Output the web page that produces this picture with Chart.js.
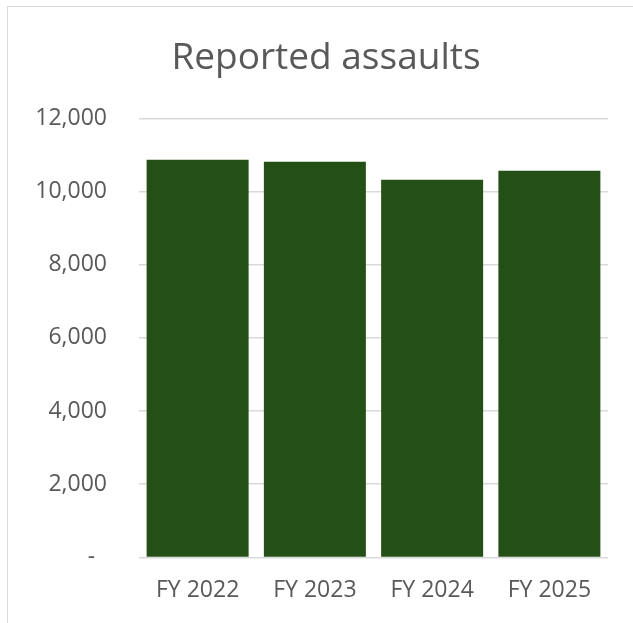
<!DOCTYPE html>
<html>
<head>
<meta charset="utf-8">
<script src="https://cdn.jsdelivr.net/npm/chart.js@4"></script>
<style>
  html, body { margin: 0; padding: 0; background: #fff; overflow: hidden; }
  #frame { position: absolute; left: 7px; top: 6px; width: 700px; height: 700px; border: 1.5px solid #d9d9d9; box-sizing: border-box; }
  #chart { position: absolute; left: 0; top: 0; }
</style>
</head>
<body>
<div id="frame"></div>
<canvas id="chart" width="633" height="623"></canvas>
<script>
const categories = ['FY 2022', 'FY 2023', 'FY 2024', 'FY 2025'];
const assaults = [10870, 10815, 10325, 10570];
const yTickValues = [0, 2000, 4000, 6000, 8000, 10000, 12000];
const yTickLabels = ['-  ', '2,000', '4,000', '6,000', '8,000', '10,000', '12,000'];

const grey = '#595959';

// the original title sits a bit right of the canvas centre
const shiftTitle = {
  id: 'shiftTitle',
  afterLayout(chart) {
    if (chart.titleBlock) chart.titleBlock.left += 44;
  }
};

const ctx = document.getElementById('chart').getContext('2d');
new Chart(ctx, {
  type: 'bar',
  data: {
    labels: categories,
    datasets: [{
      label: 'Reported assaults',
      data: assaults,
      backgroundColor: '#245017',
      borderWidth: 0,
      categoryPercentage: 1,
      barPercentage: 0.87
    }]
  },
  options: {
    responsive: false,
    animation: false,
    layout: { padding: { left: 0, right: 25, top: 0, bottom: 0 } },
    plugins: {
      legend: { display: false },
      tooltip: { enabled: false },
      title: {
        display: true,
        text: 'Reported assaults',
        color: grey,
        font: { family: 'Open Sans', size: 37, weight: 'normal' },
        padding: { top: 36, bottom: 38 }
      }
    },
    scales: {
      x: {
        grid: { display: false, drawTicks: false },
        border: { display: false },
        ticks: {
          color: grey,
          padding: 19,
          font: { family: 'Open Sans', size: 23 }
        }
      },
      y: {
        min: 0,
        max: 12000,
        afterFit(scale) { scale.width = 139; },
        afterBuildTicks(scale) { scale.ticks = yTickValues.map(v => ({ value: v })); },
        grid: { color: '#d9d9d9', lineWidth: 1.5, drawTicks: false },
        border: { display: false },
        ticks: {
          color: grey,
          padding: 32,
          font: { family: 'Open Sans', size: 23 },
          callback: (value) => yTickLabels[yTickValues.indexOf(value)]
        }
      }
    }
  },
  plugins: [shiftTitle]
});
</script>
</body>
</html>
